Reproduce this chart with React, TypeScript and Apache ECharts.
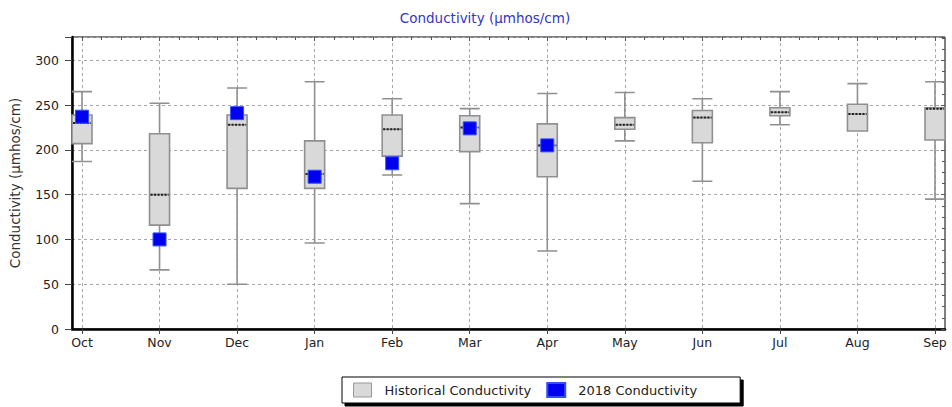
import React, { useEffect, useRef } from "react";
import * as echarts from "echarts";

const months = ["Oct", "Nov", "Dec", "Jan", "Feb", "Mar", "Apr", "May", "Jun", "Jul", "Aug", "Sep"];
const whiskerLow = [187, 66, 50, 96, 172, 140, 87, 210, 165, 228, 221, 145];
const q1 = [207, 116, 157, 157, 193, 198, 170, 223, 208, 238, 221, 211];
const median = [230, 150, 228, 173, 223, 225, 205, 228, 236, 242, 240, 246];
const q3 = [239, 218, 239, 210, 239, 238, 229, 236, 244, 247, 251, 247];
const whiskerHigh = [265, 252, 269, 276, 257, 246, 263, 264, 257, 265, 274, 276];
const values2018: (number | string)[] = [237, 100, 241, 170, 185, 224, 205, "-", "-", "-", "-", "-"];

const yMin = 0;
const yMax = 326;
const yInterval = 50;
const FONT = "DejaVu Sans";

export default function App() {
  const ref = useRef<HTMLDivElement>(null);
  useEffect(() => {
    if (!ref.current) return;
    const chart = echarts.init(ref.current, undefined, { renderer: "svg" });
    const boxData = months.map((_, i) => [whiskerLow[i], q1[i], median[i], q3[i], whiskerHigh[i]]);
    const medData = months.map((_, i) => [i, median[i]]);
    const option: any = {
      animation: false,
      backgroundColor: "#fff",
      title: {
        text: "Conductivity (µmhos/cm)",
        left: 480,
        textAlign: "center",
        top: 6,
        textStyle: { fontFamily: FONT, fontSize: 13.5, fontWeight: "normal", color: "#3535c8" },
      },
      legend: {
        left: 342,
        top: 377,
        data: [
          {
            name: "Historical Conductivity",
            icon: "rect",
            itemStyle: { color: "#d9d9d9", borderColor: "#999", borderWidth: 1 },
          },
          { name: "2018 Conductivity", icon: "rect" },
        ],
        itemWidth: 18,
        itemHeight: 14,
        itemGap: 15,
        textStyle: { fontFamily: FONT, fontSize: 13, color: "#222", padding: [0, 0, 0, 8] },
        backgroundColor: "#fff",
        borderColor: "#000",
        borderWidth: 1,
        borderRadius: 0,
        padding: [5, 43, 5, 11],
        shadowColor: "#000",
        shadowBlur: 0,
        shadowOffsetX: 3,
        shadowOffsetY: 3,
      },
      grid: [
        { left: 67, right: 7, top: 37, bottom: 78, show: true, borderColor: "#000", borderWidth: 1, backgroundColor: "#fff" },
        { left: 82, right: 17, top: 37, bottom: 78 },
      ],
      xAxis: [
        {
          gridIndex: 0,
          type: "value",
          min: 0,
          max: 1,
          axisLine: { show: true, lineStyle: { color: "#000", width: 2.5 } },
          axisTick: { show: false },
          axisLabel: { show: false },
          splitLine: { show: false },
        },
        {
          gridIndex: 1,
          type: "category",
          data: months,
          boundaryGap: false,
          axisLine: { show: false },
          axisTick: { show: true, length: 5, lineStyle: { color: "#444" } },
          axisLabel: { margin: 7, fontFamily: FONT, fontSize: 12.5, color: "#222" },
          splitLine: { show: true, lineStyle: { type: [3, 3], color: "#a8a8a8", width: 1 } },
        },
        {
          gridIndex: 1,
          type: "value",
          min: 0,
          max: 11,
          interval: 1,
          axisLine: { show: false },
          axisTick: { show: true, inside: true, length: 4, lineStyle: { color: "#555" } },
          minorTick: { show: true, splitNumber: 4, length: 3, lineStyle: { color: "#555" } },
          axisLabel: { show: false },
          splitLine: { show: false },
        },
      ],
      yAxis: [
        {
          gridIndex: 0,
          type: "value",
          min: yMin,
          max: yMax,
          interval: yInterval,
          name: "Conductivity (µmhos/cm)",
          nameLocation: "middle",
          nameGap: 50,
          nameTextStyle: { fontFamily: FONT, fontSize: 13.5, color: "#333" },
          axisLine: { show: true, lineStyle: { color: "#000", width: 2.5 } },
          axisTick: { show: true, length: 7, lineStyle: { color: "#444" } },
          axisLabel: {
            margin: 13,
            fontFamily: FONT,
            fontSize: 12.5,
            color: "#222",
            formatter: (v: number) => (v > 300 ? "" : String(v)),
          },
          splitLine: { show: true, lineStyle: { type: [3, 3], color: "#a8a8a8", width: 1 } },
        },
        {
          gridIndex: 0,
          type: "value",
          min: yMin,
          max: yMax,
          interval: yInterval,
          axisLine: { show: false },
          axisTick: { show: true, inside: true, length: 4, lineStyle: { color: "#555" } },
          minorTick: { show: true, splitNumber: 4, length: 3, lineStyle: { color: "#555" } },
          axisLabel: { show: false },
          splitLine: { show: false },
        },
        {
          gridIndex: 1,
          type: "value",
          min: yMin,
          max: yMax,
          show: false,
          splitLine: { show: false },
        },
      ],
      series: [
        {
          name: "Historical Conductivity",
          type: "boxplot",
          xAxisIndex: 1,
          yAxisIndex: 2,
          data: boxData,
          boxWidth: [20, 20],
          itemStyle: { color: "#d9d9d9", borderColor: "#909090", borderWidth: 1.6 },
          emphasis: { disabled: true },
        },
        {
          name: "median",
          type: "custom",
          xAxisIndex: 1,
          yAxisIndex: 2,
          silent: true,
          z: 10,
          data: medData,
          encode: { x: 0, y: 1 },
          renderItem: (params: any, api: any) => {
            const p = api.coord([api.value(0), api.value(1)]);
            return {
              type: "line",
              z2: 10,
              shape: { x1: p[0] - 9, y1: p[1], x2: p[0] + 9, y2: p[1] },
              style: { stroke: "#222", fill: null, lineWidth: 2, lineDash: [2, 1.5] },
            };
          },
        },
        {
          name: "2018 Conductivity",
          type: "scatter",
          xAxisIndex: 1,
          yAxisIndex: 2,
          data: values2018,
          symbol: "rect",
          symbolSize: 13,
          itemStyle: { color: "#0000f0", borderColor: "#3050ff", borderWidth: 1, opacity: 1 },
          emphasis: { disabled: true },
          z: 12,
        },
      ],
    };
    chart.setOption(option);
    return () => chart.dispose();
  }, []);
  return <div ref={ref} style={{ position: "fixed", left: 0, top: 0, width: 952, height: 407 }} />;
}
